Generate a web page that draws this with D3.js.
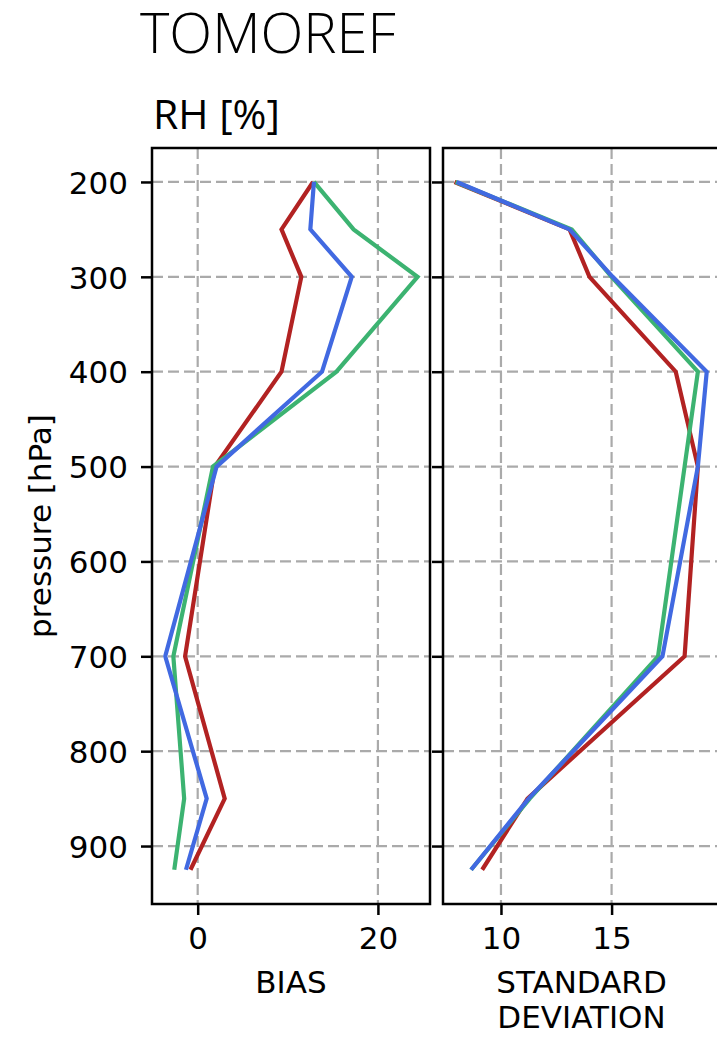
<!DOCTYPE html>
<html>
<head>
<meta charset="utf-8">
<script src="https://cdn.jsdelivr.net/npm/d3@7"></script>
<style>
	body { margin: 0; background: #fff; }
	svg { display: block; }
	.tick text { font-family: "DejaVu Sans", sans-serif; font-size: 31px; fill: #000; }
</style>
</head>
<body>
<svg width="717" height="1037"></svg>
<script>
(()=>{
	//data
	let pressureLevels = [200, 250, 300, 400, 500, 700, 850, 925];
	let pressureTicks = [200, 300, 400, 500, 600, 700, 800, 900];

	let biasRed   = [12.8,  9.3, 11.5,  9.3, 1.9, -1.4,  3.0, -0.8];
	let biasGreen = [12.9, 17.3, 24.4, 15.4, 1.7, -2.7, -1.5, -2.6];
	let biasBlue  = [12.9, 12.5, 17.1, 13.8, 2.1, -3.6,  1.0, -1.3];

	let sdRed   = [7.9,  13.1, 14.0, 17.9, 18.9, 18.3, 11.2, 9.15];
	let sdGreen = [7.95, 13.2, 15.0, 18.9, 18.3, 17.1, 11.3, 8.65];
	let sdBlue  = [8.0,  13.1, 15.05, 19.3, 18.9, 17.3, 11.25, 8.65];

	let biasTicks = [0, 20];
	let sdTicks = [10, 15, 20];

	let colors = ["#b22222", "#3cb371", "#4169e1"];

	let svg = d3.select("svg");
	let top = 148, bottom = 904, tickLen = 11;

	let y = d3.scaleLinear().domain([164.2, 961.1]).range([top, bottom]);

	//titles
	svg.append("text")
		.attr("x", 140).attr("y", 53)
		.style("font-family", "'Open Sans', sans-serif")
		.style("font-weight", 300)
		.style("font-size", "56px")
		.text("TOMOREF");
	svg.append("text")
		.attr("x", 153).attr("y", 129)
		.style("font-family", "'Open Sans', sans-serif")
		.style("font-size", "41px")
		.text("RH [%]");

	svg.append("text")
		.attr("transform", "translate(51," + (top + bottom) / 2 + ") rotate(-90)")
		.attr("text-anchor", "middle")
		.style("font-family", "'DejaVu Sans', sans-serif")
		.style("font-size", "31px")
		.text("pressure [hPa]");

	drawPanel(152, 430, [-5.07, 25.78], biasTicks, [biasRed, biasGreen, biasBlue], true, ["BIAS"]);
	drawPanel(443, 720, [7.38, 19.9], sdTicks, [sdRed, sdGreen, sdBlue], false, ["STANDARD", "DEVIATION"]);

	function drawPanel(x0, x1, domain, xticks, series, yLabels, xlabel){
		let x = d3.scaleLinear().domain(domain).range([x0, x1]);
		let g = svg.append("g");
		let shown = xticks.filter(t => x(t) <= x1);

		//grid
		g.selectAll(".hgrid").data(pressureTicks).enter()
			.append("line")
			.attr("x1", x0).attr("x2", x1)
			.attr("y1", d => y(d)).attr("y2", d => y(d))
			.attr("stroke", "#aaaaaa").attr("stroke-width", 2.2)
			.attr("stroke-dasharray", "11,5");
		g.selectAll(".vgrid").data(shown).enter()
			.append("line")
			.attr("x1", d => x(d)).attr("x2", d => x(d))
			.attr("y1", top).attr("y2", bottom)
			.attr("stroke", "#aaaaaa").attr("stroke-width", 2.2)
			.attr("stroke-dasharray", "11,5");

		//profiles
		let line = d3.line()
			.x(d => x(d[0]))
			.y(d => y(d[1]));
		series.forEach((s, i) => {
			g.append("path")
				.datum(s.map((v, k) => [v, pressureLevels[k]]))
				.attr("d", line)
				.attr("fill", "none")
				.attr("stroke", colors[i])
				.attr("stroke-width", 4.2);
		});

		//axes
		let yAxis = d3.axisLeft(y).tickValues(pressureTicks).tickSize(tickLen).tickPadding(13);
		if(!yLabels) yAxis.tickFormat("");
		g.append("g")
			.attr("transform", "translate(" + x0 + ",0)")
			.call(yAxis)
			.call(a => a.select(".domain").remove())
			.call(a => a.selectAll(".tick line").attr("stroke", "#000").attr("stroke-width", 2.5))
			.call(a => a.selectAll(".tick text").attr("dy", "0.36em"));

		g.append("g")
			.attr("transform", "translate(0," + bottom + ")")
			.call(d3.axisBottom(x).tickValues(shown).tickSize(tickLen).tickPadding(12).tickFormat(d3.format("d")))
			.call(a => a.select(".domain").remove())
			.call(a => a.selectAll(".tick line").attr("stroke", "#000").attr("stroke-width", 2.5));

		//frame
		g.append("rect")
			.attr("x", x0).attr("y", top)
			.attr("width", x1 - x0).attr("height", bottom - top)
			.attr("fill", "none").attr("stroke", "#000").attr("stroke-width", 2.5);

		//x label
		xlabel.forEach((t, i) => {
			g.append("text")
				.attr("x", (x0 + x1) / 2).attr("y", 993 + i * 35)
				.attr("text-anchor", "middle")
				.style("font-family", "'DejaVu Sans', sans-serif")
				.style("font-size", "31px")
				.text(t);
		});
	}
})();
</script>
</body>
</html>
